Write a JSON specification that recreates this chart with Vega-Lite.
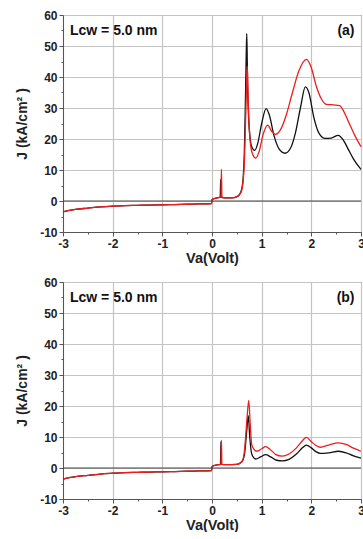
{
  "$schema": "https://vega.github.io/schema/vega-lite/v6.json",
  "background": "white",
  "padding": {"left": 15, "top": 8, "right": 0, "bottom": 0},
  "spacing": 10,
  "config": {
    "font": "Liberation Sans",
    "view": {"stroke": "#555", "strokeWidth": 1},
    "axis": {
      "labelFont": "Liberation Sans", "labelFontWeight": "bold", "labelFontSize": 12, "labelColor": "#222",
      "titleFont": "Liberation Sans", "titleFontWeight": "bold", "titleColor": "#222",
      "domainColor": "#555", "tickColor": "#555", "gridColor": "#c4c4c4", "gridWidth": 1.2, "grid": true, "labelOverlap": false, "tickSize": 4
    }
  },
  "datasets": {
    "curves": [
      {"p":"a","s":"B","V":-3,"J":-3.5},{"p":"a","s":"B","V":-2.9,"J":-3.1},{"p":"a","s":"B","V":-2.75,"J":-2.7},{"p":"a","s":"B","V":-2.5,"J":-2.3},{"p":"a","s":"B","V":-2.25,"J":-1.9},{"p":"a","s":"B","V":-2,"J":-1.65},{"p":"a","s":"B","V":-1.75,"J":-1.5},{"p":"a","s":"B","V":-1.5,"J":-1.4},{"p":"a","s":"B","V":-1.25,"J":-1.3},{"p":"a","s":"B","V":-1,"J":-1.25},{"p":"a","s":"B","V":-0.75,"J":-1.15},{"p":"a","s":"B","V":-0.5,"J":-1.05},{"p":"a","s":"B","V":-0.25,"J":-0.95},{"p":"a","s":"B","V":-0.01,"J":-0.85},
      {"p":"a","s":"B","V":0,"J":0.5},{"p":"a","s":"B","V":0.1,"J":1.0},{"p":"a","s":"B","V":0.165,"J":1.3},{"p":"a","s":"B","V":0.175,"J":7},{"p":"a","s":"B","V":0.185,"J":1.3},{"p":"a","s":"B","V":0.21,"J":1.1},{"p":"a","s":"B","V":0.3,"J":1.0},{"p":"a","s":"B","V":0.45,"J":1.1},{"p":"a","s":"B","V":0.5,"J":1.4},{"p":"a","s":"B","V":0.55,"J":2},{"p":"a","s":"B","V":0.6,"J":4},{"p":"a","s":"B","V":0.63,"J":8},{"p":"a","s":"B","V":0.65,"J":15},{"p":"a","s":"B","V":0.67,"J":30},{"p":"a","s":"B","V":0.69,"J":48},{"p":"a","s":"B","V":0.7,"J":54},{"p":"a","s":"B","V":0.71,"J":45},{"p":"a","s":"B","V":0.72,"J":35},{"p":"a","s":"B","V":0.74,"J":26},{"p":"a","s":"B","V":0.77,"J":20},{"p":"a","s":"B","V":0.8,"J":17.5},{"p":"a","s":"B","V":0.86,"J":16.3},{"p":"a","s":"B","V":0.92,"J":18.5},{"p":"a","s":"B","V":1.0,"J":25},{"p":"a","s":"B","V":1.09,"J":29.8},{"p":"a","s":"B","V":1.15,"J":28},{"p":"a","s":"B","V":1.25,"J":21},{"p":"a","s":"B","V":1.35,"J":16.8},{"p":"a","s":"B","V":1.47,"J":15.4},{"p":"a","s":"B","V":1.58,"J":17},{"p":"a","s":"B","V":1.68,"J":22},{"p":"a","s":"B","V":1.78,"J":30},{"p":"a","s":"B","V":1.88,"J":36.8},{"p":"a","s":"B","V":1.95,"J":35},{"p":"a","s":"B","V":2.05,"J":27},{"p":"a","s":"B","V":2.15,"J":22},{"p":"a","s":"B","V":2.28,"J":20.2},{"p":"a","s":"B","V":2.4,"J":20.3},{"p":"a","s":"B","V":2.54,"J":21.2},{"p":"a","s":"B","V":2.65,"J":19.5},{"p":"a","s":"B","V":2.75,"J":16.5},{"p":"a","s":"B","V":2.85,"J":13.5},{"p":"a","s":"B","V":3.0,"J":10.2},

      {"p":"a","s":"R","V":-3,"J":-3.5},{"p":"a","s":"R","V":-2.9,"J":-3.1},{"p":"a","s":"R","V":-2.75,"J":-2.7},{"p":"a","s":"R","V":-2.5,"J":-2.3},{"p":"a","s":"R","V":-2.25,"J":-1.9},{"p":"a","s":"R","V":-2,"J":-1.65},{"p":"a","s":"R","V":-1.75,"J":-1.5},{"p":"a","s":"R","V":-1.5,"J":-1.4},{"p":"a","s":"R","V":-1.25,"J":-1.3},{"p":"a","s":"R","V":-1,"J":-1.25},{"p":"a","s":"R","V":-0.75,"J":-1.15},{"p":"a","s":"R","V":-0.5,"J":-1.05},{"p":"a","s":"R","V":-0.25,"J":-0.95},{"p":"a","s":"R","V":-0.01,"J":-0.85},
      {"p":"a","s":"R","V":0,"J":0.5},{"p":"a","s":"R","V":0.1,"J":1.0},{"p":"a","s":"R","V":0.18,"J":1.3},{"p":"a","s":"R","V":0.19,"J":10.3},{"p":"a","s":"R","V":0.2,"J":1.3},{"p":"a","s":"R","V":0.22,"J":1.1},{"p":"a","s":"R","V":0.3,"J":1.0},{"p":"a","s":"R","V":0.45,"J":1.1},{"p":"a","s":"R","V":0.5,"J":1.4},{"p":"a","s":"R","V":0.55,"J":2},{"p":"a","s":"R","V":0.6,"J":3.5},{"p":"a","s":"R","V":0.65,"J":12},{"p":"a","s":"R","V":0.68,"J":28},{"p":"a","s":"R","V":0.7,"J":40},{"p":"a","s":"R","V":0.71,"J":43.5},{"p":"a","s":"R","V":0.72,"J":38},{"p":"a","s":"R","V":0.74,"J":27},{"p":"a","s":"R","V":0.77,"J":19},{"p":"a","s":"R","V":0.82,"J":15},{"p":"a","s":"R","V":0.88,"J":13.8},{"p":"a","s":"R","V":0.95,"J":16},{"p":"a","s":"R","V":1.03,"J":21.5},{"p":"a","s":"R","V":1.12,"J":24.5},{"p":"a","s":"R","V":1.2,"J":22.5},{"p":"a","s":"R","V":1.28,"J":21.5},{"p":"a","s":"R","V":1.38,"J":23},{"p":"a","s":"R","V":1.5,"J":28},{"p":"a","s":"R","V":1.62,"J":35},{"p":"a","s":"R","V":1.75,"J":42},{"p":"a","s":"R","V":1.9,"J":45.7},{"p":"a","s":"R","V":2.0,"J":43},{"p":"a","s":"R","V":2.1,"J":37},{"p":"a","s":"R","V":2.2,"J":33},{"p":"a","s":"R","V":2.3,"J":31.2},{"p":"a","s":"R","V":2.45,"J":31},{"p":"a","s":"R","V":2.57,"J":30.8},{"p":"a","s":"R","V":2.65,"J":29},{"p":"a","s":"R","V":2.75,"J":25.5},{"p":"a","s":"R","V":2.88,"J":21},{"p":"a","s":"R","V":3.0,"J":17.5},

      {"p":"b","s":"B","V":-3,"J":-3.6},{"p":"b","s":"B","V":-2.9,"J":-3.2},{"p":"b","s":"B","V":-2.75,"J":-2.8},{"p":"b","s":"B","V":-2.5,"J":-2.35},{"p":"b","s":"B","V":-2.25,"J":-1.95},{"p":"b","s":"B","V":-2,"J":-1.7},{"p":"b","s":"B","V":-1.75,"J":-1.5},{"p":"b","s":"B","V":-1.5,"J":-1.4},{"p":"b","s":"B","V":-1.25,"J":-1.3},{"p":"b","s":"B","V":-1,"J":-1.25},{"p":"b","s":"B","V":-0.75,"J":-1.15},{"p":"b","s":"B","V":-0.5,"J":-1.05},{"p":"b","s":"B","V":-0.25,"J":-0.95},{"p":"b","s":"B","V":-0.01,"J":-0.85},
      {"p":"b","s":"B","V":0,"J":0.5},{"p":"b","s":"B","V":0.1,"J":1.0},{"p":"b","s":"B","V":0.17,"J":1.2},{"p":"b","s":"B","V":0.18,"J":8.5},{"p":"b","s":"B","V":0.19,"J":1.2},{"p":"b","s":"B","V":0.3,"J":1.1},{"p":"b","s":"B","V":0.5,"J":1.2},{"p":"b","s":"B","V":0.6,"J":2},{"p":"b","s":"B","V":0.65,"J":4},{"p":"b","s":"B","V":0.7,"J":12},{"p":"b","s":"B","V":0.73,"J":16.9},{"p":"b","s":"B","V":0.76,"J":10},{"p":"b","s":"B","V":0.8,"J":4.5},{"p":"b","s":"B","V":0.88,"J":2.9},{"p":"b","s":"B","V":0.98,"J":3.6},{"p":"b","s":"B","V":1.08,"J":4.3},{"p":"b","s":"B","V":1.18,"J":3.6},{"p":"b","s":"B","V":1.3,"J":2.5},{"p":"b","s":"B","V":1.42,"J":2.3},{"p":"b","s":"B","V":1.55,"J":2.8},{"p":"b","s":"B","V":1.7,"J":4.5},{"p":"b","s":"B","V":1.82,"J":6.5},{"p":"b","s":"B","V":1.9,"J":7.4},{"p":"b","s":"B","V":2.0,"J":6.5},{"p":"b","s":"B","V":2.1,"J":5.2},{"p":"b","s":"B","V":2.18,"J":4.7},{"p":"b","s":"B","V":2.35,"J":4.9},{"p":"b","s":"B","V":2.55,"J":5.4},{"p":"b","s":"B","V":2.7,"J":4.9},{"p":"b","s":"B","V":2.85,"J":3.9},{"p":"b","s":"B","V":3.0,"J":3.2},

      {"p":"b","s":"R","V":-3,"J":-3.6},{"p":"b","s":"R","V":-2.9,"J":-3.2},{"p":"b","s":"R","V":-2.75,"J":-2.8},{"p":"b","s":"R","V":-2.5,"J":-2.35},{"p":"b","s":"R","V":-2.25,"J":-1.95},{"p":"b","s":"R","V":-2,"J":-1.7},{"p":"b","s":"R","V":-1.75,"J":-1.5},{"p":"b","s":"R","V":-1.5,"J":-1.4},{"p":"b","s":"R","V":-1.25,"J":-1.3},{"p":"b","s":"R","V":-1,"J":-1.25},{"p":"b","s":"R","V":-0.75,"J":-1.15},{"p":"b","s":"R","V":-0.5,"J":-1.05},{"p":"b","s":"R","V":-0.25,"J":-0.95},{"p":"b","s":"R","V":-0.01,"J":-0.85},
      {"p":"b","s":"R","V":0,"J":0.5},{"p":"b","s":"R","V":0.1,"J":1.0},{"p":"b","s":"R","V":0.18,"J":1.2},{"p":"b","s":"R","V":0.19,"J":9.0},{"p":"b","s":"R","V":0.2,"J":1.2},{"p":"b","s":"R","V":0.3,"J":1.1},{"p":"b","s":"R","V":0.5,"J":1.2},{"p":"b","s":"R","V":0.6,"J":2},{"p":"b","s":"R","V":0.65,"J":5},{"p":"b","s":"R","V":0.7,"J":15},{"p":"b","s":"R","V":0.74,"J":21.8},{"p":"b","s":"R","V":0.77,"J":14},{"p":"b","s":"R","V":0.8,"J":7.5},{"p":"b","s":"R","V":0.9,"J":5.4},{"p":"b","s":"R","V":1.0,"J":6.2},{"p":"b","s":"R","V":1.08,"J":6.9},{"p":"b","s":"R","V":1.17,"J":6.0},{"p":"b","s":"R","V":1.28,"J":4.4},{"p":"b","s":"R","V":1.41,"J":3.8},{"p":"b","s":"R","V":1.55,"J":4.5},{"p":"b","s":"R","V":1.7,"J":6.5},{"p":"b","s":"R","V":1.82,"J":8.8},{"p":"b","s":"R","V":1.9,"J":9.9},{"p":"b","s":"R","V":2.0,"J":8.5},{"p":"b","s":"R","V":2.1,"J":7.2},{"p":"b","s":"R","V":2.18,"J":6.7},{"p":"b","s":"R","V":2.35,"J":7.4},{"p":"b","s":"R","V":2.55,"J":8.1},{"p":"b","s":"R","V":2.7,"J":7.6},{"p":"b","s":"R","V":2.85,"J":6.4},{"p":"b","s":"R","V":3.0,"J":5.4}
    ]
  },
  "vconcat": [
    {
      "width": 298, "height": 217,
      "layer": [
        {
          "data": {"name": "curves"},
          "transform": [{"filter": "datum.p === 'a'"}],
          "mark": {"type": "line", "strokeWidth": 1.3, "interpolate": "monotone"},
          "encoding": {
            "x": {"field": "V", "type": "quantitative", "scale": {"domain": [-3, 3], "nice": false},
              "axis": {"title": "Va(Volt)", "titleFontSize": 14.5, "titlePadding": 2, "labelFlush": false, "labelPadding": 2, "grid": true, "labelOverlap": false, "values": [-3,-2.5,-2,-1.5,-1,-0.5,0,0.5,1,1.5,2,2.5,3], "labelExpr": "datum.value % 1 === 0 ? toString(datum.value) : ''", "tickSize": {"condition": {"test": "datum.value % 1 !== 0", "value": 2}, "value": 4}, "gridOpacity": {"condition": {"test": "datum.value % 1 !== 0", "value": 0}, "value": 1}}},
            "y": {"field": "J", "type": "quantitative", "scale": {"domain": [-10, 60], "nice": false, "zero": false},
              "axis": {"title": "J (kA/cm² )", "titleFontSize": 14, "titlePadding": 10, "labelPadding": 2, "grid": true, "labelOverlap": false, "values": [-10,-5,0,5,10,15,20,25,30,35,40,45,50,55,60], "labelExpr": "datum.value % 10 === 0 ? toString(datum.value) : ''", "tickSize": {"condition": {"test": "datum.value % 10 !== 0", "value": 2}, "value": 4}, "gridOpacity": {"condition": {"test": "datum.value % 10 !== 0", "value": 0}, "value": 1}}},
            "color": {"field": "s", "type": "nominal", "scale": {"domain": ["B", "R"], "range": ["#111111", "#ee1c1c"]}, "legend": null}
          }
        },
        {
          "data": {"values": [{"z": 0}]},
          "mark": {"type": "rule", "color": "#444", "strokeWidth": 1.2},
          "encoding": {"y": {"field": "z", "type": "quantitative",
            "axis": {"title": "J (kA/cm² )", "titleFontSize": 14, "titlePadding": 10, "labelPadding": 2, "grid": true, "labelOverlap": false, "values": [-10,-5,0,5,10,15,20,25,30,35,40,45,50,55,60], "labelExpr": "datum.value % 10 === 0 ? toString(datum.value) : ''", "tickSize": {"condition": {"test": "datum.value % 10 !== 0", "value": 2}, "value": 4}, "gridOpacity": {"condition": {"test": "datum.value % 10 !== 0", "value": 0}, "value": 1}}}}
        },
        {
          "data": {"values": [{"t": "Lcw = 5.0 nm", "u": "(a)"}]},
          "encoding": {
            "y": {"datum": 54.8, "type": "quantitative",
              "axis": {"title": "J (kA/cm² )", "titleFontSize": 14, "titlePadding": 10, "labelPadding": 2, "grid": true, "labelOverlap": false, "values": [-10,-5,0,5,10,15,20,25,30,35,40,45,50,55,60], "labelExpr": "datum.value % 10 === 0 ? toString(datum.value) : ''", "tickSize": {"condition": {"test": "datum.value % 10 !== 0", "value": 2}, "value": 4}, "gridOpacity": {"condition": {"test": "datum.value % 10 !== 0", "value": 0}, "value": 1}}}
          },
          "layer": [
            {
              "mark": {"type": "text", "align": "left", "baseline": "middle", "fontSize": 14, "fontWeight": "bold", "font": "Liberation Sans", "color": "#111"},
              "encoding": {"x": {"datum": -2.86, "type": "quantitative",
                "axis": {"title": "Va(Volt)", "titleFontSize": 14.5, "titlePadding": 2, "labelFlush": false, "labelPadding": 2, "grid": true, "labelOverlap": false, "values": [-3,-2.5,-2,-1.5,-1,-0.5,0,0.5,1,1.5,2,2.5,3], "labelExpr": "datum.value % 1 === 0 ? toString(datum.value) : ''", "tickSize": {"condition": {"test": "datum.value % 1 !== 0", "value": 2}, "value": 4}, "gridOpacity": {"condition": {"test": "datum.value % 1 !== 0", "value": 0}, "value": 1}}},
                "text": {"field": "t"}}
            },
            {
              "mark": {"type": "text", "align": "right", "baseline": "middle", "fontSize": 14, "fontWeight": "bold", "font": "Liberation Sans", "color": "#111"},
              "encoding": {"x": {"datum": 2.87, "type": "quantitative",
                "axis": {"title": "Va(Volt)", "titleFontSize": 14.5, "titlePadding": 2, "labelFlush": false, "labelPadding": 2, "grid": true, "labelOverlap": false, "values": [-3,-2.5,-2,-1.5,-1,-0.5,0,0.5,1,1.5,2,2.5,3], "labelExpr": "datum.value % 1 === 0 ? toString(datum.value) : ''", "tickSize": {"condition": {"test": "datum.value % 1 !== 0", "value": 2}, "value": 4}, "gridOpacity": {"condition": {"test": "datum.value % 1 !== 0", "value": 0}, "value": 1}}},
                "text": {"field": "u"}}
            }
          ]
        }
      ]
    },
    {
      "width": 298, "height": 217,
      "layer": [
        {
          "data": {"name": "curves"},
          "transform": [{"filter": "datum.p === 'b'"}],
          "mark": {"type": "line", "strokeWidth": 1.3, "interpolate": "monotone"},
          "encoding": {
            "x": {"field": "V", "type": "quantitative", "scale": {"domain": [-3, 3], "nice": false},
              "axis": {"title": "Va(Volt)", "titleFontSize": 14.5, "titlePadding": 2, "labelFlush": false, "labelPadding": 2, "grid": true, "labelOverlap": false, "values": [-3,-2.5,-2,-1.5,-1,-0.5,0,0.5,1,1.5,2,2.5,3], "labelExpr": "datum.value % 1 === 0 ? toString(datum.value) : ''", "tickSize": {"condition": {"test": "datum.value % 1 !== 0", "value": 2}, "value": 4}, "gridOpacity": {"condition": {"test": "datum.value % 1 !== 0", "value": 0}, "value": 1}}},
            "y": {"field": "J", "type": "quantitative", "scale": {"domain": [-10, 60], "nice": false, "zero": false},
              "axis": {"title": "J (kA/cm² )", "titleFontSize": 14, "titlePadding": 10, "labelPadding": 2, "grid": true, "labelOverlap": false, "values": [-10,-5,0,5,10,15,20,25,30,35,40,45,50,55,60], "labelExpr": "datum.value % 10 === 0 ? toString(datum.value) : ''", "tickSize": {"condition": {"test": "datum.value % 10 !== 0", "value": 2}, "value": 4}, "gridOpacity": {"condition": {"test": "datum.value % 10 !== 0", "value": 0}, "value": 1}}},
            "color": {"field": "s", "type": "nominal", "scale": {"domain": ["B", "R"], "range": ["#111111", "#ee1c1c"]}, "legend": null}
          }
        },
        {
          "data": {"values": [{"z": 0}]},
          "mark": {"type": "rule", "color": "#444", "strokeWidth": 1.2},
          "encoding": {"y": {"field": "z", "type": "quantitative",
            "axis": {"title": "J (kA/cm² )", "titleFontSize": 14, "titlePadding": 10, "labelPadding": 2, "grid": true, "labelOverlap": false, "values": [-10,-5,0,5,10,15,20,25,30,35,40,45,50,55,60], "labelExpr": "datum.value % 10 === 0 ? toString(datum.value) : ''", "tickSize": {"condition": {"test": "datum.value % 10 !== 0", "value": 2}, "value": 4}, "gridOpacity": {"condition": {"test": "datum.value % 10 !== 0", "value": 0}, "value": 1}}}}
        },
        {
          "data": {"values": [{"t": "Lcw = 5.0 nm", "u": "(b)"}]},
          "encoding": {
            "y": {"datum": 54.8, "type": "quantitative",
              "axis": {"title": "J (kA/cm² )", "titleFontSize": 14, "titlePadding": 10, "labelPadding": 2, "grid": true, "labelOverlap": false, "values": [-10,-5,0,5,10,15,20,25,30,35,40,45,50,55,60], "labelExpr": "datum.value % 10 === 0 ? toString(datum.value) : ''", "tickSize": {"condition": {"test": "datum.value % 10 !== 0", "value": 2}, "value": 4}, "gridOpacity": {"condition": {"test": "datum.value % 10 !== 0", "value": 0}, "value": 1}}}
          },
          "layer": [
            {
              "mark": {"type": "text", "align": "left", "baseline": "middle", "fontSize": 14, "fontWeight": "bold", "font": "Liberation Sans", "color": "#111"},
              "encoding": {"x": {"datum": -2.86, "type": "quantitative",
                "axis": {"title": "Va(Volt)", "titleFontSize": 14.5, "titlePadding": 2, "labelFlush": false, "labelPadding": 2, "grid": true, "labelOverlap": false, "values": [-3,-2.5,-2,-1.5,-1,-0.5,0,0.5,1,1.5,2,2.5,3], "labelExpr": "datum.value % 1 === 0 ? toString(datum.value) : ''", "tickSize": {"condition": {"test": "datum.value % 1 !== 0", "value": 2}, "value": 4}, "gridOpacity": {"condition": {"test": "datum.value % 1 !== 0", "value": 0}, "value": 1}}},
                "text": {"field": "t"}}
            },
            {
              "mark": {"type": "text", "align": "right", "baseline": "middle", "fontSize": 14, "fontWeight": "bold", "font": "Liberation Sans", "color": "#111"},
              "encoding": {"x": {"datum": 2.87, "type": "quantitative",
                "axis": {"title": "Va(Volt)", "titleFontSize": 14.5, "titlePadding": 2, "labelFlush": false, "labelPadding": 2, "grid": true, "labelOverlap": false, "values": [-3,-2.5,-2,-1.5,-1,-0.5,0,0.5,1,1.5,2,2.5,3], "labelExpr": "datum.value % 1 === 0 ? toString(datum.value) : ''", "tickSize": {"condition": {"test": "datum.value % 1 !== 0", "value": 2}, "value": 4}, "gridOpacity": {"condition": {"test": "datum.value % 1 !== 0", "value": 0}, "value": 1}}},
                "text": {"field": "u"}}
            }
          ]
        }
      ]
    }
  ]
}
